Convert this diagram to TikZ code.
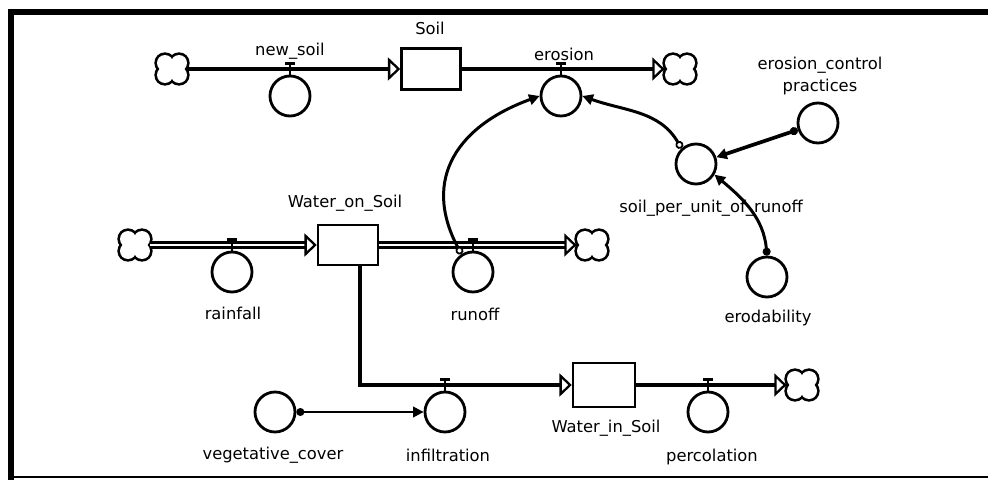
\documentclass[tikz,border=0pt]{standalone}
\usepackage{fontspec}
\setmainfont{DejaVu Sans}
\usepackage{xcolor}
\usepackage{tikz}
\usetikzlibrary{arrows.meta}
\definecolor{sdInk}{HTML}{000000}
\definecolor{sdPaper}{HTML}{FFFFFF}
\tikzset{
  stockbox/.style={rectangle, draw=sdInk, fill=sdPaper, line width=1.4pt, minimum width=1.18cm, minimum height=0.82cm, inner sep=0pt},
  auxnode/.style={circle, draw=sdInk, fill=sdPaper, line width=1.6pt, minimum size=0.8cm, inner sep=0pt},
  cloudnode/.style={rectangle, minimum width=0.6cm, minimum height=0.54cm, inner sep=0pt},
  sdlabel/.style={font=\fontsize{9.3}{13}\selectfont, text=sdInk, inner sep=1pt, align=center},
  flowpipe/.style={line width=2.8pt, draw=sdInk, -{Triangle[open, length=7pt, width=13pt, line width=1.3pt]}},
  waterpipe/.style={double=sdPaper, draw=sdInk, line width=1.4pt, double distance=1.3pt, -{Triangle[open, length=7pt, width=13pt, line width=1.3pt]}},
  valvestem/.style={line width=1.4pt, draw=sdInk},
  dotlink/.style={line width=1.7pt, draw=sdInk, {Circle[length=4.5pt]}-{Triangle[length=6pt, width=6pt]}},
  ringlink/.style={line width=1.7pt, draw=sdInk, {Circle[length=4.5pt, fill=sdPaper, line width=1pt]}-{Triangle[length=6pt, width=6pt]}},
  framerule/.style={line width=3.4pt, draw=sdInk},
}
\begin{document}
\begin{tikzpicture}[x=0.02cm, y=-0.02cm]
  \useasboundingbox (0,0) rectangle (988,480);
  % page frame
  \draw[framerule] (11,480) -- (11,12) -- (988,12);
  \draw[line width=1.1pt, draw=sdInk] (11,477) -- (988,477);

  % clouds (sources and sinks)
  \node[cloudnode] (srcSoil)  at (172,69)  {};
  \node[cloudnode] (sinkSoil) at (680,69)  {};
  \node[cloudnode] (srcRain)  at (135,245) {};
  \node[cloudnode] (sinkRun)  at (592,245) {};
  \node[cloudnode] (sinkPerc) at (802,385) {};
  \foreach \c in {srcSoil,sinkSoil,srcRain,sinkRun,sinkPerc}{
    \draw[sdInk, line width=3pt] ([shift={(-7,-6)}]\c.center) circle[radius=0.16cm]
      ([shift={(7,-6)}]\c.center) circle[radius=0.16cm]
      ([shift={(-7,6)}]\c.center) circle[radius=0.16cm]
      ([shift={(7,6)}]\c.center) circle[radius=0.16cm];
    \fill[sdPaper] ([shift={(-7,-6)}]\c.center) circle[radius=0.16cm]
      ([shift={(7,-6)}]\c.center) circle[radius=0.16cm]
      ([shift={(-7,6)}]\c.center) circle[radius=0.16cm]
      ([shift={(7,6)}]\c.center) circle[radius=0.16cm]
      ([shift={(-8,-7)}]\c.center) rectangle ([shift={(8,7)}]\c.center);
  }

  % stocks
  \node[stockbox] (soil) at (431,69) {};
  \node[stockbox, minimum width=1.2cm, minimum height=0.8cm] (wos) at (348,245) {};
  \node[stockbox, minimum width=1.24cm, minimum height=0.88cm] (wis) at (604,385) {};

  % flows
  \draw[flowpipe] (srcSoil.east) -- (soil.west);
  \draw[flowpipe] (soil.east) -- (sinkSoil.west);
  \draw[waterpipe] (srcRain.east) -- (wos.west);
  \draw[waterpipe] (wos.east) -- (sinkRun.west);
  \draw[flowpipe] ([xshift=0.24cm]wos.south) |- (wis.west);
  \draw[flowpipe] (wis.east) -- (sinkPerc.west);

  % rates and converters
  \node[auxnode] (newsoil)  at (290,96)  {};
  \node[auxnode] (erosion)  at (561,96)  {};
  \node[auxnode] (rainfall) at (232,272) {};
  \node[auxnode] (runoff)   at (473,272) {};
  \node[auxnode] (infil)    at (445,412) {};
  \node[auxnode] (percol)   at (708,412) {};
  \node[auxnode] (ecp)      at (818,123) {};
  \node[auxnode] (spu)      at (696,164) {};
  \node[auxnode] (erod)     at (767,277) {};
  \node[auxnode] (veg)      at (275,412) {};

  \foreach \v in {newsoil,erosion,rainfall,runoff,infil,percol}
    \draw[valvestem] (\v.north) -- ++(0,-11) ++(-5,0) -- ++(10,0);

  % information links
  \draw[ringlink] (runoff.123) to[out=118, in=200, looseness=1.25] (erosion.west);
  \draw[ringlink] (spu.133) to[out=120, in=-20] (erosion.east);
  \draw[dotlink, line width=2.1pt] (ecp) -- (spu);
  \draw[dotlink] (erod.north) to[out=95, in=-40] (spu.-30);
  \draw[dotlink, line width=1.3pt] (veg) -- (infil);

  % labels
  \node[sdlabel] (soilL)    at (430,28)  {Soil};
  \node[sdlabel] (newsoilL) at (290,51)  {new\_soil};
  \node[sdlabel] (erosionL) at (564,54)  {erosion};
  \node[sdlabel] (ecpL)     at (820,76)  {erosion\_control\\practices};
  \node[sdlabel] (spuL)     at (711,208) {soil\_per\_unit\_of\_runoff};
  \node[sdlabel] (wosL)     at (345,203) {Water\_on\_Soil};
  \node[sdlabel] (rainL)    at (233,313) {rainfall};
  \node[sdlabel] (runoffL)  at (475,314) {runoff};
  \node[sdlabel] (erodL)    at (768,318) {erodability};
  \node[sdlabel] (vegL)     at (273,455) {vegetative\_cover};
  \node[sdlabel] (infilL)   at (448,455) {infiltration};
  \node[sdlabel] (wisL)     at (606,428) {Water\_in\_Soil};
  \node[sdlabel] (percolL)  at (712,457) {percolation};
\end{tikzpicture}
\end{document}
